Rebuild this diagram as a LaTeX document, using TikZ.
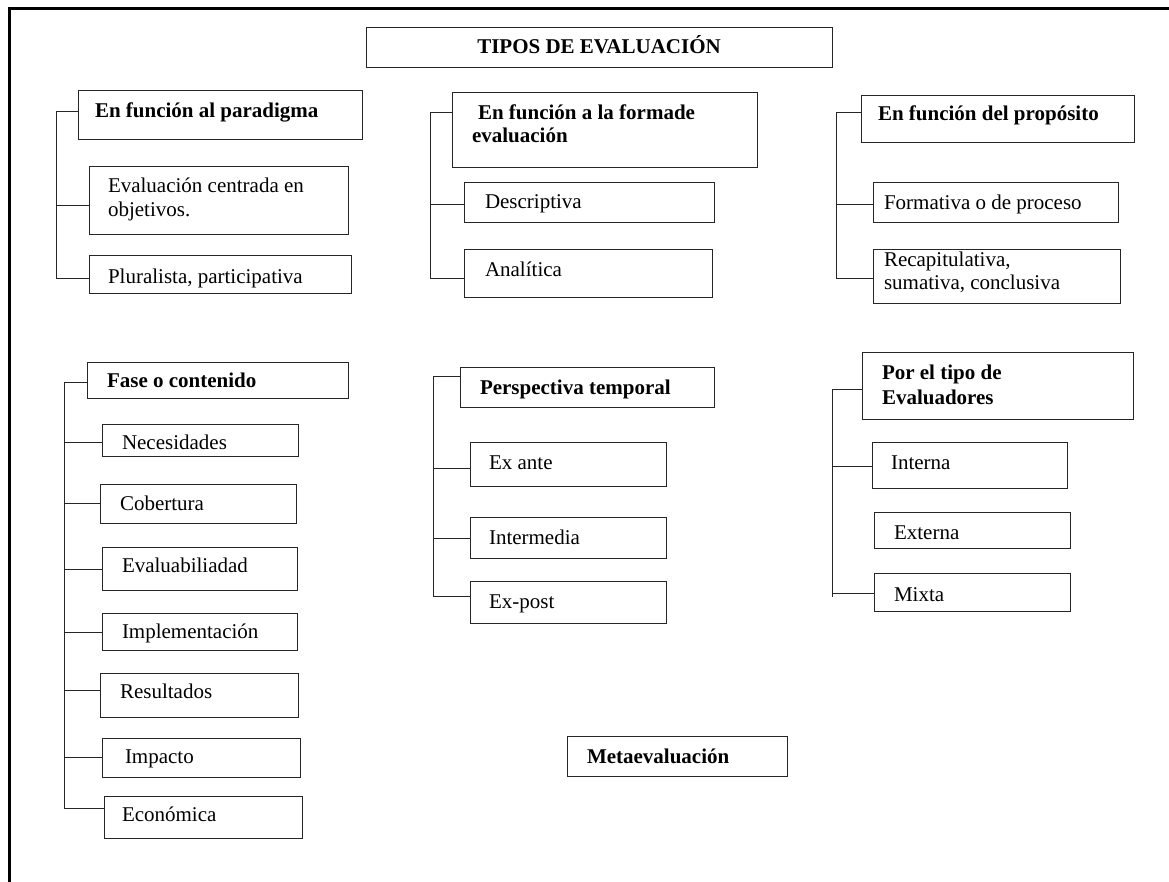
\documentclass[tikz,border=0pt]{standalone}
\usepackage{fontspec}
\setmainfont{Liberation Serif}
\tikzset{
  box/.style={draw=black!85, line width=0.9pt, rectangle, inner sep=0pt, outer sep=0pt, anchor=north west},
  lbl/.style={anchor=base west, inner sep=0pt, outer sep=0pt, font=\fontsize{21}{24}\selectfont},
  hd/.style={lbl, font=\fontsize{21}{24}\selectfont\bfseries},
  link/.style={draw=black!85, line width=0.9pt},
  frameline/.style={draw=black, line width=3pt}
}
% \caja{name}{x1}{y1}{x2}{y2}: rectangle from top-left to bottom-right (y measured downwards)
\newcommand{\caja}[5]{\node[box, minimum width={#4pt-#2pt}, minimum height={#5pt-#3pt}] (#1) at (#2,-#3) {};}
\begin{document}
\begin{tikzpicture}[x=1pt,y=1pt]
\useasboundingbox (0,0) rectangle (1169,-882);
\begin{scope}
\clip (0,0) rectangle (1169,-882);
% outer frame (top and left sides)
\coordinate (fr-a) at (9.5,-900);
\coordinate (fr-b) at (9.5,-8.5);
\coordinate (fr-c) at (1200,-8.5);
\draw[frameline] (fr-a) -- (fr-b) -- (fr-c);
\end{scope}

% title
\caja{tit}{366}{27}{832}{67}
\node[hd, anchor=base] (tit-t) at (599,-54) {TIPOS DE EVALUACIÓN};

% ---------- En función al paradigma ----------
\caja{pa}{78}{90}{362}{139}
\node[hd] (pa-t) at (95,-118) {En función al paradigma};
\caja{pa1}{89}{166}{348}{234}
\node[lbl] (pa1-t1) at (108,-193) {Evaluación centrada en};
\node[lbl] (pa1-t2) at (108,-217) {objetivos.};
\caja{pa2}{89}{255}{351}{293}
\node[lbl] (pa2-t) at (108,-284) {Pluralista, participativa};

\coordinate (pa-top) at (56,-111);
\coordinate (pa-c1) at (56,-205);
\coordinate (pa-bot) at (56,-278);
\draw[link] (pa-bot) -- (pa-top) -- (pa-top -| pa.west);
\draw[link] (pa-c1) -- (pa-c1 -| pa1.west);
\draw[link] (pa-bot) -- (pa-bot -| pa2.west);

% ---------- En función a la forma de evaluación ----------
\caja{fo}{452}{92}{757}{167}
\node[hd] (fo-t1) at (478,-120) {En función a la formade};
\node[hd] (fo-t2) at (472,-143) {evaluación};
\caja{fo1}{464}{182}{714}{222}
\node[lbl] (fo1-t) at (485,-209) {Descriptiva};
\caja{fo2}{464}{249}{712}{297}
\node[lbl] (fo2-t) at (485,-277) {Analítica};

\coordinate (fo-top) at (430,-112);
\coordinate (fo-c1) at (430,-204);
\coordinate (fo-bot) at (430,-278);
\draw[link] (fo-bot) -- (fo-top) -- (fo-top -| fo.west);
\draw[link] (fo-c1) -- (fo-c1 -| fo1.west);
\draw[link] (fo-bot) -- (fo-bot -| fo2.west);

% ---------- En función del propósito ----------
\caja{pr}{861}{95}{1134}{142}
\node[hd] (pr-t) at (878,-121) {En función del propósito};
\caja{pr1}{873}{182}{1118}{222}
\node[lbl] (pr1-t) at (884,-210) {Formativa o de proceso};
\caja{pr2}{873}{249}{1120}{303}
\node[lbl] (pr2-t1) at (884,-267) {Recapitulativa,};
\node[lbl] (pr2-t2) at (884,-290) {sumativa, conclusiva};

\coordinate (pr-top) at (836,-112);
\coordinate (pr-c1) at (836,-204);
\coordinate (pr-bot) at (836,-278);
\draw[link] (pr-bot) -- (pr-top) -- (pr-top -| pr.west);
\draw[link] (pr-c1) -- (pr-c1 -| pr1.west);
\draw[link] (pr-bot) -- (pr-bot -| pr2.west);

% ---------- Fase o contenido ----------
\caja{fa}{87}{362}{348}{398}
\node[hd] (fa-t) at (107,-387) {Fase o contenido};
\caja{fa1}{102}{424}{298}{456}
\node[lbl] (fa1-t) at (122,-449) {Necesidades};
\caja{fa2}{100}{484}{296}{523}
\node[lbl] (fa2-t) at (120,-510) {Cobertura};
\caja{fa3}{102}{547}{297}{590}
\node[lbl] (fa3-t) at (122,-572) {Evaluabiliadad};
\caja{fa4}{102}{613}{297}{650}
\node[lbl] (fa4-t) at (122,-638) {Implementación};
\caja{fa5}{100}{673}{298}{717}
\node[lbl] (fa5-t) at (120,-698) {Resultados};
\caja{fa6}{102}{738}{300}{777}
\node[lbl] (fa6-t) at (125,-763) {Impacto};
\caja{fa7}{104}{796}{302}{838}
\node[lbl] (fa7-t) at (122,-821) {Económica};

\coordinate (fa-top) at (64,-382);
\coordinate (fa-c1) at (64,-442);
\coordinate (fa-c2) at (64,-503);
\coordinate (fa-c3) at (64,-569);
\coordinate (fa-c4) at (64,-632);
\coordinate (fa-c5) at (64,-690);
\coordinate (fa-c6) at (64,-757);
\coordinate (fa-bot) at (64,-808);
\draw[link] (fa-bot) -- (fa-top) -- (fa-top -| fa.west);
\draw[link] (fa-c1) -- (fa-c1 -| fa1.west);
\draw[link] (fa-c2) -- (fa-c2 -| fa2.west);
\draw[link] (fa-c3) -- (fa-c3 -| fa3.west);
\draw[link] (fa-c4) -- (fa-c4 -| fa4.west);
\draw[link] (fa-c5) -- (fa-c5 -| fa5.west);
\draw[link] (fa-c6) -- (fa-c6 -| fa6.west);
\draw[link] (fa-bot) -- (fa-bot -| fa7.west);

% ---------- Perspectiva temporal ----------
\caja{pe}{460}{367}{714}{407}
\node[hd] (pe-t) at (480,-394) {Perspectiva temporal};
\caja{pe1}{470}{442}{666}{486}
\node[lbl] (pe1-t) at (489,-469) {Ex ante};
\caja{pe2}{470}{517}{666}{558}
\node[lbl] (pe2-t) at (489,-544) {Intermedia};
\caja{pe3}{470}{581}{666}{623}
\node[lbl] (pe3-t) at (489,-608) {Ex-post};

\coordinate (pe-top) at (433,-376);
\coordinate (pe-c1) at (433,-468);
\coordinate (pe-c2) at (433,-538);
\coordinate (pe-bot) at (433,-596);
\draw[link] (pe-bot) -- (pe-top) -- (pe-top -| pe.west);
\draw[link] (pe-c1) -- (pe-c1 -| pe1.west);
\draw[link] (pe-c2) -- (pe-c2 -| pe2.west);
\draw[link] (pe-bot) -- (pe-bot -| pe3.west);

% ---------- Por el tipo de evaluadores ----------
\caja{ev}{862}{352}{1133}{419}
\node[hd] (ev-t1) at (882,-379) {Por el tipo de};
\node[hd] (ev-t2) at (882,-404) {Evaluadores};
\caja{ev1}{872}{442}{1067}{488}
\node[lbl] (ev1-t) at (891,-469) {Interna};
\caja{ev2}{874}{512}{1070}{548}
\node[lbl] (ev2-t) at (894,-539) {Externa};
\caja{ev3}{874}{573}{1070}{611}
\node[lbl] (ev3-t) at (894,-601) {Mixta};

\coordinate (ev-top) at (832,-389);
\coordinate (ev-c1) at (832,-466);
\coordinate (ev-c3) at (832,-593);
\coordinate (ev-bot) at (832,-597);
\draw[link] (ev-bot) -- (ev-top) -- (ev-top -| ev.west);
\draw[link] (ev-c1) -- (ev-c1 -| ev1.west);
\draw[link] (ev-c3) -- (ev-c3 -| ev3.west);

% ---------- Metaevaluación ----------
\caja{me}{567}{736}{787}{776}
\node[hd] (me-t) at (587,-763) {Metaevaluación};
\end{tikzpicture}
\end{document}
